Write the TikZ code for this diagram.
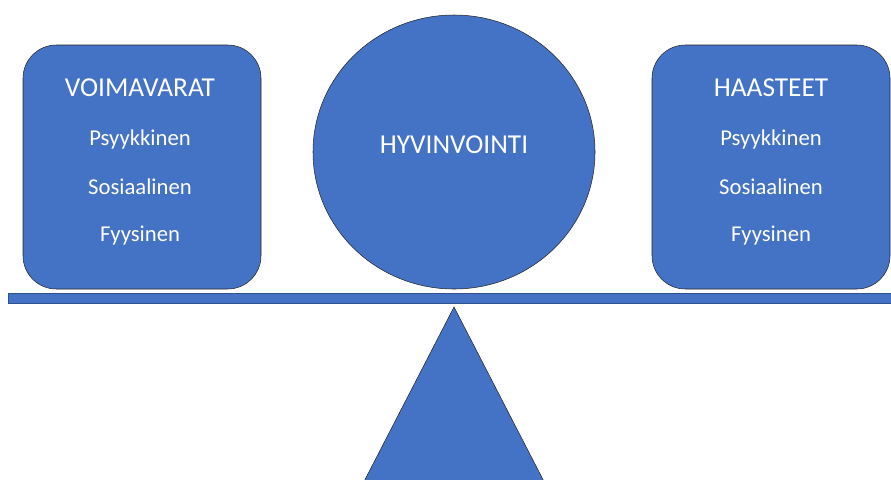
\documentclass[tikz,border=0pt]{standalone}
\usepackage{fontspec}
\setmainfont{Carlito}
\usetikzlibrary{shapes.geometric}

\definecolor{officeblue}{HTML}{4472C4}
\definecolor{edgeblue}{HTML}{2F528F}

\tikzset{
  sidebox/.style={draw=black!85, fill=officeblue, rounded corners=25pt,
    minimum width=178.5pt, minimum height=183pt, inner sep=0pt},
  title/.style={text=white, font=\fontsize{20.5}{23}\selectfont},
  item/.style={text=white, font=\fontsize{17}{19}\selectfont}
}

\begin{document}
\begin{tikzpicture}[x=0.75pt,y=-0.75pt]
  \useasboundingbox (0,0) rectangle (891,479);
  \clip (0,0) rectangle (891,479);
  % fulcrum
  \coordinate (Apex) at (454,307);
  \draw[black!85, fill=officeblue] (Apex) -- (355,499) -- (553,499) -- cycle;
  % beam
  \draw[edgeblue, fill=officeblue] (8,293) rectangle (893,303);
  % side boxes
  \node[sidebox] (Voima) at (142,167) {};
  \node[sidebox] (Haaste) at (771,167) {};
  \node[title] (VoimaT) at (140,88) {VOIMAVARAT};
  \node[item] (VoimaP) at (140,139) {Psyykkinen};
  \node[item] (VoimaS) at (140,187) {Sosiaalinen};
  \node[item] (VoimaF) at (140,236) {Fyysinen};
  \node[title] (HaasteT) at (771,88) {HAASTEET};
  \node[item] (HaasteP) at (771,139) {Psyykkinen};
  \node[item] (HaasteS) at (771,187) {Sosiaalinen};
  \node[item] (HaasteF) at (771,236) {Fyysinen};
  % ball
  \node[ellipse, draw=black!85, fill=officeblue, minimum width=211.5pt,
    minimum height=205.5pt, inner sep=0pt] (Hyvin) at (454,152) {};
  \node[title] (HyvinT) at (454,145) {HYVINVOINTI};
\end{tikzpicture}
\end{document}
